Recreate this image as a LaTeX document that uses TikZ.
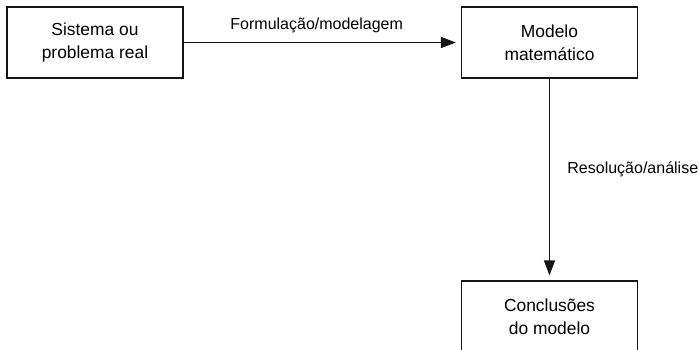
\documentclass[tikz,border=0pt]{standalone}
\usepackage{fontspec}
\setmainfont{Liberation Sans}
\usetikzlibrary{arrows.meta,positioning}
\definecolor{flowblack}{RGB}{20,20,20}

\begin{document}
\begin{tikzpicture}[x=1pt,y=1pt,>={Triangle[length=15pt,width=11pt]},
    box/.style={draw=flowblack,line width=1.2pt,minimum width=176pt,minimum height=71pt,
        align=center,font=\fontsize{17.4}{23}\selectfont},
    flow/.style={->,draw=flowblack,line width=1.2pt,shorten >=5pt},
    lbl/.style={font=\fontsize{16}{19}\selectfont}]
    % Page frame
    \useasboundingbox (0,0) rectangle (699,-349);

    % Define coordinates
    \coordinate (S) at (95,-42.5);
    \coordinate (M) at (549.5,-42.5);
    \coordinate (C) at (549.5,-316.5);

    % Boxes
    \node[box] (sistema) at (S) {Sistema ou\\problema real};
    \node[box] (modelo) at (M) {Modelo\\matemático};
    \node[box] (conclusoes) at (C) {Conclusões\\do modelo};

    % Steps
    \draw[flow] (sistema) -- node[lbl,above=6pt,pos=0.48] {Formulação/modelagem} (modelo);
    \draw[flow] (modelo) -- node[lbl,right=14pt,pos=0.45] {Resolução/análise} (conclusoes);
\end{tikzpicture}
\end{document}
